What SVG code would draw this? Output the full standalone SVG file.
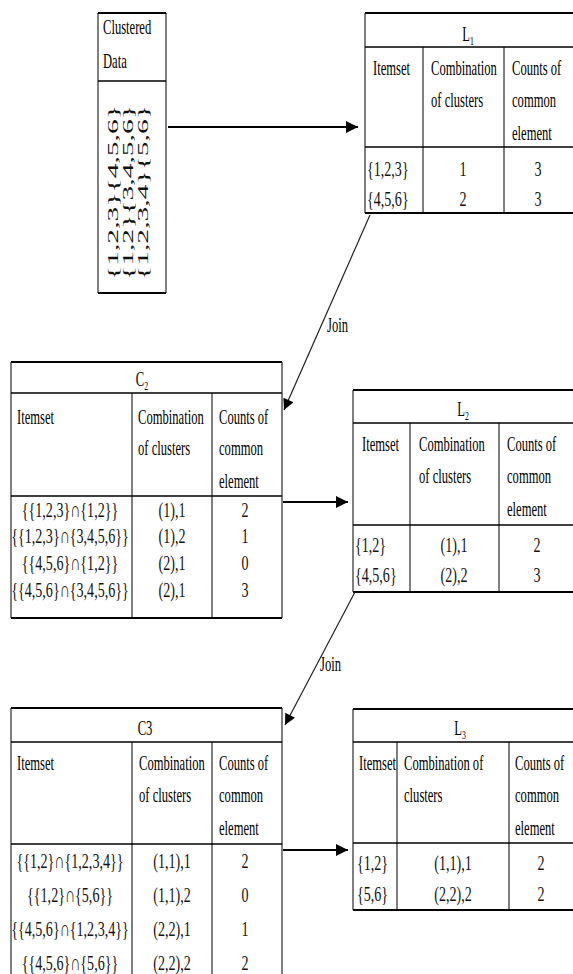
<svg xmlns="http://www.w3.org/2000/svg" width="573" height="974" viewBox="0 0 573 974">
<style>
.b{stroke:#000;stroke-width:1;fill:none}
.h{stroke:#000;stroke-width:1.5;fill:none}
.k{stroke:#000;stroke-width:2;fill:none}
.t{font-family:"Liberation Serif","Times New Roman",serif;font-size:21px;fill:#000}
.d{font-family:"Liberation Serif","Times New Roman",serif;font-size:22px;fill:#111}
.m{text-anchor:middle}
.r{font-family:"Liberation Serif","Times New Roman",serif;font-size:14px;fill:#111}
.s{font-size:13px}
.a{stroke:#000;stroke-width:2.2;fill:none}
.j{stroke:#222;stroke-width:1.2;fill:none}
</style>
<defs>
<marker id="ah" viewBox="0 0 10 10" refX="10" refY="5" markerWidth="12" markerHeight="12" markerUnits="userSpaceOnUse" orient="auto">
<path d="M0,0 L10,5 L0,10 z" fill="#000"/>
</marker>
<marker id="aj" viewBox="0 0 10 10" refX="10" refY="5" markerWidth="13" markerHeight="11" markerUnits="userSpaceOnUse" orient="auto">
<path d="M0,0 L10,5 L0,10 z" fill="#000"/>
</marker>
</defs>

<g id="clustered">
<line class="k" x1="98" y1="13" x2="166" y2="13"/>
<line class="h" x1="98" y1="81" x2="166" y2="81"/>
<line class="k" x1="98" y1="293" x2="166" y2="293"/>
<line class="b" x1="98" y1="13" x2="98" y2="293"/>
<line class="b" x1="166" y1="13" x2="166" y2="293"/>
<text class="t" transform="translate(103 34) scale(0.6 1)">Clustered</text>
<text class="t" transform="translate(103 68) scale(0.6 1)">Data</text>
<text class="r" transform="translate(118 280) rotate(-90)" textLength="175" lengthAdjust="spacingAndGlyphs">{1,2,3}{4,5,6}</text>
<text class="r" transform="translate(133 280) rotate(-90)" textLength="175" lengthAdjust="spacingAndGlyphs">{1,2}{3,4,5,6}</text>
<text class="r" transform="translate(148 280) rotate(-90)" textLength="175" lengthAdjust="spacingAndGlyphs">{1,2,3,4}{5,6}</text>
</g>

<g id="L1">
<line class="k" x1="365" y1="13" x2="573" y2="13"/>
<line class="h" x1="365" y1="47" x2="573" y2="47"/>
<line class="h" x1="365" y1="147" x2="573" y2="147"/>
<line class="k" x1="365" y1="213" x2="573" y2="213"/>
<line class="b" x1="365" y1="13" x2="365" y2="213"/>
<line class="b" x1="423" y1="47" x2="423" y2="213"/>
<line class="b" x1="504" y1="47" x2="504" y2="213"/>
<text class="t m" transform="translate(468 41) scale(0.6 1)">L<tspan class="s" dy="4">1</tspan></text>
<text class="t" transform="translate(373 75) scale(0.6 1)">Itemset</text>
<text class="t" transform="translate(431 75) scale(0.6 1)">Combination</text>
<text class="t" transform="translate(431 107) scale(0.6 1)">of clusters</text>
<text class="t" transform="translate(512 75) scale(0.6 1)">Counts of</text>
<text class="t" transform="translate(512 107) scale(0.6 1)">common</text>
<text class="t" transform="translate(512 140) scale(0.6 1)">element</text>
<text class="d" transform="translate(367 176) scale(0.64 1)">{1,2,3}</text>
<text class="d" transform="translate(367 206) scale(0.64 1)">{4,5,6}</text>
<text class="d m" transform="translate(463 176) scale(0.64 1)">1</text>
<text class="d m" transform="translate(463 206) scale(0.64 1)">2</text>
<text class="d m" transform="translate(538 176) scale(0.64 1)">3</text>
<text class="d m" transform="translate(538 206) scale(0.64 1)">3</text>
</g>

<g id="C2">
<line class="k" x1="11" y1="362" x2="282" y2="362"/>
<line class="h" x1="11" y1="393" x2="282" y2="393"/>
<line class="h" x1="11" y1="496" x2="282" y2="496"/>
<line class="k" x1="11" y1="618" x2="282" y2="618"/>
<line class="b" x1="11" y1="362" x2="11" y2="618"/>
<line class="b" x1="132" y1="393" x2="132" y2="618"/>
<line class="b" x1="212" y1="393" x2="212" y2="618"/>
<line class="b" x1="282" y1="362" x2="282" y2="618"/>
<text class="t m" transform="translate(142 386) scale(0.6 1)">C<tspan class="s" dy="4">2</tspan></text>
<text class="t" transform="translate(17 424) scale(0.6 1)">Itemset</text>
<text class="t" transform="translate(138 424) scale(0.6 1)">Combination</text>
<text class="t" transform="translate(138 455) scale(0.6 1)">of clusters</text>
<text class="t" transform="translate(219 424) scale(0.6 1)">Counts of</text>
<text class="t" transform="translate(219 455) scale(0.6 1)">common</text>
<text class="t" transform="translate(219 488) scale(0.6 1)">element</text>
<text class="d m" transform="translate(70 517) scale(0.64 1)">{{1,2,3}∩{1,2}}</text>
<text class="d m" transform="translate(70 543) scale(0.64 1)">{{1,2,3}∩{3,4,5,6}}</text>
<text class="d m" transform="translate(70 570) scale(0.64 1)">{{4,5,6}∩{1,2}}</text>
<text class="d m" transform="translate(70 597) scale(0.64 1)">{{4,5,6}∩{3,4,5,6}}</text>
<text class="d m" transform="translate(172 517) scale(0.64 1)">(1),1</text>
<text class="d m" transform="translate(172 543) scale(0.64 1)">(1),2</text>
<text class="d m" transform="translate(172 570) scale(0.64 1)">(2),1</text>
<text class="d m" transform="translate(172 597) scale(0.64 1)">(2),1</text>
<text class="d m" transform="translate(245 517) scale(0.64 1)">2</text>
<text class="d m" transform="translate(245 543) scale(0.64 1)">1</text>
<text class="d m" transform="translate(245 570) scale(0.64 1)">0</text>
<text class="d m" transform="translate(245 597) scale(0.64 1)">3</text>
</g>

<g id="L2">
<line class="k" x1="353" y1="390" x2="573" y2="390"/>
<line class="h" x1="353" y1="423" x2="573" y2="423"/>
<line class="h" x1="353" y1="525" x2="573" y2="525"/>
<line class="k" x1="353" y1="592" x2="573" y2="592"/>
<line class="b" x1="353" y1="390" x2="353" y2="592"/>
<line class="b" x1="410" y1="423" x2="410" y2="592"/>
<line class="b" x1="499" y1="423" x2="499" y2="592"/>
<text class="t m" transform="translate(463 416) scale(0.6 1)">L<tspan class="s" dy="4">2</tspan></text>
<text class="t" transform="translate(362 451) scale(0.6 1)">Itemset</text>
<text class="t" transform="translate(419 451) scale(0.6 1)">Combination</text>
<text class="t" transform="translate(419 483) scale(0.6 1)">of clusters</text>
<text class="t" transform="translate(507 451) scale(0.6 1)">Counts of</text>
<text class="t" transform="translate(507 483) scale(0.6 1)">common</text>
<text class="t" transform="translate(507 516) scale(0.6 1)">element</text>
<text class="d" transform="translate(355 552) scale(0.64 1)">{1,2}</text>
<text class="d" transform="translate(355 582) scale(0.64 1)">{4,5,6}</text>
<text class="d m" transform="translate(454 552) scale(0.64 1)">(1),1</text>
<text class="d m" transform="translate(454 582) scale(0.64 1)">(2),2</text>
<text class="d m" transform="translate(537 552) scale(0.64 1)">2</text>
<text class="d m" transform="translate(537 582) scale(0.64 1)">3</text>
</g>

<g id="C3">
<line class="k" x1="11" y1="708" x2="282" y2="708"/>
<line class="h" x1="11" y1="742" x2="282" y2="742"/>
<line class="h" x1="11" y1="844" x2="282" y2="844"/>
<line class="b" x1="11" y1="708" x2="11" y2="974"/>
<line class="b" x1="132" y1="742" x2="132" y2="974"/>
<line class="b" x1="212" y1="742" x2="212" y2="974"/>
<line class="b" x1="282" y1="708" x2="282" y2="974"/>
<text class="t m" transform="translate(145 735) scale(0.6 1)">C3</text>
<text class="t" transform="translate(17 770) scale(0.6 1)">Itemset</text>
<text class="t" transform="translate(139 770) scale(0.6 1)">Combination</text>
<text class="t" transform="translate(139 802) scale(0.6 1)">of clusters</text>
<text class="t" transform="translate(219 770) scale(0.6 1)">Counts of</text>
<text class="t" transform="translate(219 802) scale(0.6 1)">common</text>
<text class="t" transform="translate(219 835) scale(0.6 1)">element</text>
<text class="d m" transform="translate(70 868) scale(0.64 1)">{{1,2}∩{1,2,3,4}}</text>
<text class="d m" transform="translate(70 902) scale(0.64 1)">{{1,2}∩{5,6}}</text>
<text class="d m" transform="translate(70 936) scale(0.64 1)">{{4,5,6}∩{1,2,3,4}}</text>
<text class="d m" transform="translate(70 970) scale(0.64 1)">{{4,5,6}∩{5,6}}</text>
<text class="d m" transform="translate(172 868) scale(0.64 1)">(1,1),1</text>
<text class="d m" transform="translate(172 902) scale(0.64 1)">(1,1),2</text>
<text class="d m" transform="translate(172 936) scale(0.64 1)">(2,2),1</text>
<text class="d m" transform="translate(172 970) scale(0.64 1)">(2,2),2</text>
<text class="d m" transform="translate(245 868) scale(0.64 1)">2</text>
<text class="d m" transform="translate(245 902) scale(0.64 1)">0</text>
<text class="d m" transform="translate(245 936) scale(0.64 1)">1</text>
<text class="d m" transform="translate(245 970) scale(0.64 1)">2</text>
</g>

<g id="L3">
<line class="k" x1="353" y1="709" x2="573" y2="709"/>
<line class="h" x1="353" y1="742" x2="573" y2="742"/>
<line class="h" x1="353" y1="843" x2="573" y2="843"/>
<line class="k" x1="353" y1="910" x2="573" y2="910"/>
<line class="b" x1="353" y1="709" x2="353" y2="910"/>
<line class="b" x1="397" y1="742" x2="397" y2="910"/>
<line class="b" x1="509" y1="742" x2="509" y2="910"/>
<text class="t m" transform="translate(460 735) scale(0.6 1)">L<tspan class="s" dy="4">3</tspan></text>
<text class="t" transform="translate(359 770) scale(0.6 1)">Itemset</text>
<text class="t" transform="translate(404 770) scale(0.6 1)">Combination of</text>
<text class="t" transform="translate(404 802) scale(0.6 1)">clusters</text>
<text class="t" transform="translate(515 770) scale(0.6 1)">Counts of</text>
<text class="t" transform="translate(515 802) scale(0.6 1)">common</text>
<text class="t" transform="translate(515 835) scale(0.6 1)">element</text>
<text class="d" transform="translate(357 870) scale(0.64 1)">{1,2}</text>
<text class="d" transform="translate(357 901) scale(0.64 1)">{5,6}</text>
<text class="d m" transform="translate(453 870) scale(0.64 1)">(1,1),1</text>
<text class="d m" transform="translate(453 901) scale(0.64 1)">(2,2),2</text>
<text class="d m" transform="translate(541 870) scale(0.64 1)">2</text>
<text class="d m" transform="translate(541 901) scale(0.64 1)">2</text>
</g>

<g id="connectors">
<line class="a" x1="168" y1="127" x2="358" y2="127" marker-end="url(#ah)"/>
<line class="a" x1="283" y1="502" x2="348" y2="502" marker-end="url(#ah)"/>
<line class="a" x1="283" y1="850" x2="348" y2="850" marker-end="url(#ah)"/>
<line class="j" x1="370" y1="215" x2="284" y2="410" marker-end="url(#aj)"/>
<line class="j" x1="355" y1="592" x2="285" y2="725" marker-end="url(#aj)"/>
<text class="t" transform="translate(327 332) scale(0.6 1)">Join</text>
<text class="t" transform="translate(320 671) scale(0.6 1)">Join</text>
</g>
</svg>
